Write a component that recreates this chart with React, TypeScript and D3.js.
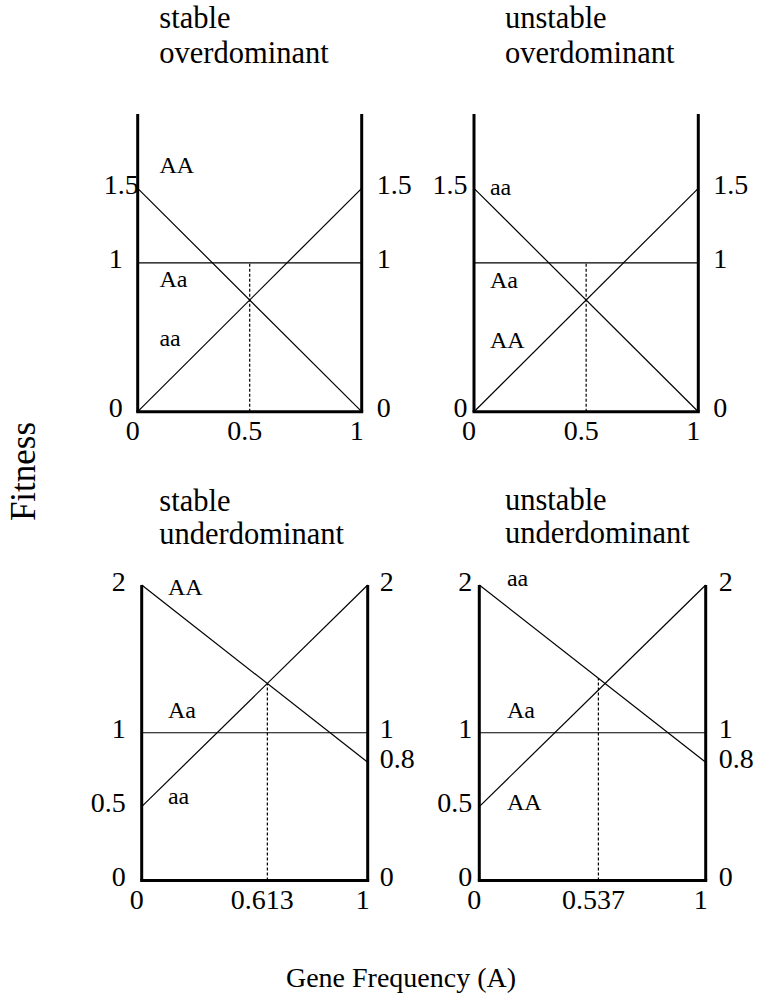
import React, { useEffect, useRef } from 'react'
import * as d3 from 'd3'

// four panels: top-left, top-right, bottom-left, bottom-right
const panelTitles = [
  ['stable', 'overdominant'],
  ['unstable', 'overdominant'],
  ['stable', 'underdominant'],
  ['unstable', 'underdominant']
]
const genotypes = [
  ['AA', 'Aa', 'aa'],
  ['aa', 'Aa', 'AA'],
  ['AA', 'Aa', 'aa'],
  ['aa', 'Aa', 'AA']
]
// fitness of each genotype at A frequency 0 and 1
const fitnessAt0 = [
  [1.5, 1, 0],
  [1.5, 1, 0],
  [2, 1, 0.5],
  [2, 1, 0.5]
]
const fitnessAt1 = [
  [0, 1, 1.5],
  [0, 1, 1.5],
  [0.8, 1, 2],
  [0.8, 1, 2]
]
// where the genotype names sit (fitness units / frequency units)
const genotypeLabelY = [
  [1.6, 0.84, 0.44],
  [1.455, 0.83, 0.43],
  [1.93, 1.1, 0.52],
  [1.99, 1.1, 0.48]
]
const genotypeLabelX = [0.097, 0.071, 0.116, 0.122]
const equilibrium = [0.5, 0.5, 0.556, 0.526]
const equilibriumTop = [1, 1, 1.333, 1.37]
const freqTicks = [0, null, 1]
const freqTickLabels = [
  ['0', '0.5', '1'],
  ['0', '0.5', '1'],
  ['0', '0.613', '1'],
  ['0', '0.537', '1']
]
const leftTicks = [
  [0, 1, 1.5],
  [0, 1.5],
  [0, 0.5, 1, 2],
  [0, 0.5, 1, 2]
]
const rightTicks = [
  [0, 1, 1.5],
  [0, 1, 1.5],
  [0, 0.8, 1, 2],
  [0, 0.8, 1, 2]
]
const fitnessMax = 2

const layout = [
  { x0: 137.7, x1: 361.7, y0: 411.7, y1: 113.9, leftGap: 15, rightGap: 15, titleX: 159.3, titleY: [28.3, 63.3] },
  { x0: 474, x1: 698.3, y0: 411.7, y1: 113.9, leftGap: 6.5, rightGap: 15, titleX: 505, titleY: [28.3, 63.3] },
  { x0: 141.7, x1: 367.7, y0: 880.5, y1: 585, leftGap: 16, rightGap: 12, titleX: 159.3, titleY: [510.7, 543.7] },
  { x0: 479.3, x1: 705.7, y0: 880.5, y1: 585, leftGap: 7, rightGap: 13, titleX: 505, titleY: [510.3, 543.3] }
]

const font = '"Liberation Serif", "Times New Roman", serif'

function App() {
  const ref = useRef<SVGSVGElement | null>(null)

  useEffect(() => {
    const svg = d3.select(ref.current)
    svg.selectAll('*').remove()

    panelTitles.forEach((title, p) => {
      const L = layout[p]
      const x = d3.scaleLinear().domain([0, 1]).range([L.x0, L.x1])
      const y = d3.scaleLinear().domain([0, fitnessMax]).range([L.y0, L.y1])
      const g = svg.append('g')

      // titles
      title.forEach((t, i) => {
        g.append('text')
          .attr('x', L.titleX)
          .attr('y', L.titleY[i])
          .attr('font-size', 30.5)
          .text(t)
      })

      // genotype fitness lines
      const line = d3
        .line<[number, number]>()
        .x(d => x(d[0]))
        .y(d => y(d[1]))
      genotypes[p].forEach((gt, i) => {
        g.append('path')
          .attr('d', line([[0, fitnessAt0[p][i]], [1, fitnessAt1[p][i]]]))
          .attr('stroke', '#000')
          .attr('stroke-width', 1.2)
          .attr('fill', 'none')
        g.append('text')
          .attr('x', x(genotypeLabelX[p]))
          .attr('y', y(genotypeLabelY[p][i]))
          .attr('font-size', 24)
          .text(gt)
      })

      // equilibrium dashed line
      g.append('line')
        .attr('x1', x(equilibrium[p]))
        .attr('x2', x(equilibrium[p]))
        .attr('y1', y(0))
        .attr('y2', y(equilibriumTop[p]))
        .attr('stroke', '#000')
        .attr('stroke-width', 1.2)
        .attr('stroke-dasharray', '3,2')

      // frame: two thick verticals and the base
      ;[0, 1].forEach(v => {
        g.append('line')
          .attr('x1', x(v))
          .attr('x2', x(v))
          .attr('y1', y(0))
          .attr('y2', y(fitnessMax))
          .attr('stroke', '#000')
          .attr('stroke-width', 3)
      })
      g.append('line')
        .attr('x1', x(0) - 1.5)
        .attr('x2', x(1) + 1.5)
        .attr('y1', y(0))
        .attr('y2', y(0))
        .attr('stroke', '#000')
        .attr('stroke-width', 3)

      // fitness tick labels
      leftTicks[p].forEach(v => {
        const shift = p === 0 && v === 1.5 ? 16 : 0
        g.append('text')
          .attr('x', L.x0 - L.leftGap + shift)
          .attr('y', y(v) + 5.5)
          .attr('text-anchor', 'end')
          .attr('font-size', 28)
          .text(String(v))
      })
      rightTicks[p].forEach(v => {
        g.append('text')
          .attr('x', L.x1 + L.rightGap)
          .attr('y', y(v) + 5.5)
          .attr('font-size', 28)
          .text(String(v))
      })

      // frequency tick labels
      freqTicks.forEach((v, i) => {
        const fv = v === null ? equilibrium[p] : v
        g.append('text')
          .attr('x', x(fv) - 5)
          .attr('y', L.y0 + 28)
          .attr('text-anchor', 'middle')
          .attr('font-size', 28)
          .text(freqTickLabels[p][i])
      })
    })

    svg.append('text')
      .attr('transform', 'translate(35,471.5) rotate(-90)')
      .attr('text-anchor', 'middle')
      .attr('font-size', 35)
      .text('Fitness')

    svg.append('text')
      .attr('x', 401)
      .attr('y', 987)
      .attr('text-anchor', 'middle')
      .attr('font-size', 28)
      .text('Gene Frequency (A)')
  }, [])

  return (
    <svg
      ref={ref}
      width={757}
      height={996}
      fontFamily={font}
      style={{ position: 'absolute', left: 0, top: 0, background: '#fff' }}
    />
  )
}

export default App
